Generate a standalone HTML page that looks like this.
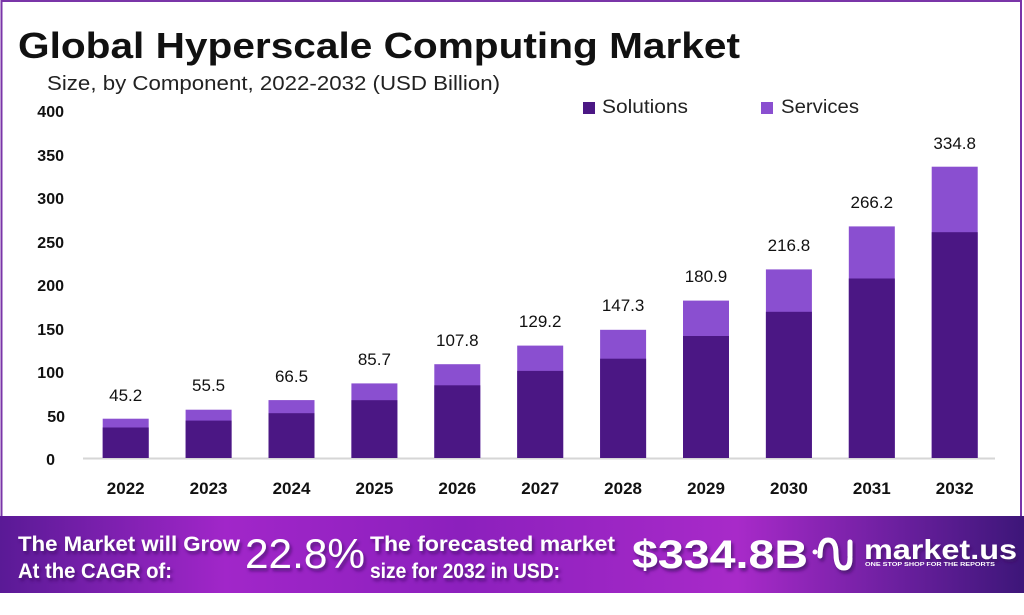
<!DOCTYPE html>
<html>
<head>
<meta charset="utf-8">
<style>
  html,body{margin:0;padding:0;background:#fff;}
  svg{display:block;}
  text{font-family:"Liberation Sans", Arial, sans-serif;}
</style>
</head>
<body>
<svg width="1024" height="615" viewBox="0 0 1024 615" xmlns="http://www.w3.org/2000/svg">
  <defs>
    <linearGradient id="ban" x1="0" y1="0" x2="1" y2="0">
      <stop offset="0" stop-color="#5a1a96"/>
      <stop offset="0.22" stop-color="#a126c9"/>
      <stop offset="0.45" stop-color="#8c20bd"/>
      <stop offset="0.72" stop-color="#a82ac9"/>
      <stop offset="0.88" stop-color="#6a1f9e"/>
      <stop offset="1" stop-color="#3d1679"/>
    </linearGradient>
    <filter id="ts" x="-10%" y="-20%" width="130%" height="150%">
      <feDropShadow dx="2" dy="3" stdDeviation="1.5" flood-color="#3a0a60" flood-opacity="0.7"/>
    </filter>
  </defs>
  <rect x="0" y="0" width="1024" height="615" fill="#fff"/>
  <!-- frame -->
  <rect x="1.5" y="1" width="1019.5" height="520" fill="none" stroke="#7a35a8" stroke-width="2"/>

  <!-- title -->
  <text x="18" y="58" font-size="36" font-weight="bold" fill="#111" textLength="722" lengthAdjust="spacingAndGlyphs">Global Hyperscale Computing Market</text>
  <text x="47" y="90" font-size="20" fill="#222" textLength="453" lengthAdjust="spacingAndGlyphs">Size, by Component, 2022-2032 (USD Billion)</text>

  <!-- legend -->
  <rect x="583" y="102" width="12" height="12" fill="#4b1784"/>
  <text x="602" y="113" font-size="19" fill="#222" textLength="86" lengthAdjust="spacingAndGlyphs">Solutions</text>
  <rect x="761" y="102" width="12" height="12" fill="#8a4fd0"/>
  <text x="781" y="113" font-size="19" fill="#222" textLength="78" lengthAdjust="spacingAndGlyphs">Services</text>

  <!-- y axis labels -->
  <g font-size="16" font-weight="bold" fill="#111" text-anchor="end">
    <text x="64" y="117">400</text>
    <text x="64" y="161">350</text>
    <text x="64" y="204">300</text>
    <text x="64" y="248">250</text>
    <text x="64" y="291">200</text>
    <text x="64" y="335">150</text>
    <text x="64" y="378">100</text>
    <text x="65" y="422">50</text>
    <text x="55" y="465">0</text>
  </g>

  <!-- baseline -->
  <line x1="83" y1="458.5" x2="995" y2="458.5" stroke="#d6d6d6" stroke-width="2"/>

  <!-- bars -->
  <g>
    <rect x="102.7" y="418.7" width="46" height="39.3" fill="#8a4fd0"/><rect x="102.7" y="427.5" width="46" height="30.5" fill="#4b1784"/>
    <rect x="185.6" y="409.7" width="46" height="48.3" fill="#8a4fd0"/><rect x="185.6" y="420.6" width="46" height="37.4" fill="#4b1784"/>
    <rect x="268.5" y="400.1" width="46" height="57.9" fill="#8a4fd0"/><rect x="268.5" y="413.2" width="46" height="44.8" fill="#4b1784"/>
    <rect x="351.4" y="383.4" width="46" height="74.6" fill="#8a4fd0"/><rect x="351.4" y="400.2" width="46" height="57.8" fill="#4b1784"/>
    <rect x="434.3" y="364.2" width="46" height="93.8" fill="#8a4fd0"/><rect x="434.3" y="385.3" width="46" height="72.7" fill="#4b1784"/>
    <rect x="517.2" y="345.6" width="46" height="112.4" fill="#8a4fd0"/><rect x="517.2" y="370.9" width="46" height="87.1" fill="#4b1784"/>
    <rect x="600.1" y="329.8" width="46" height="128.2" fill="#8a4fd0"/><rect x="600.1" y="358.7" width="46" height="99.3" fill="#4b1784"/>
    <rect x="683.0" y="300.6" width="46" height="157.4" fill="#8a4fd0"/><rect x="683.0" y="336.0" width="46" height="122.0" fill="#4b1784"/>
    <rect x="765.9" y="269.4" width="46" height="188.6" fill="#8a4fd0"/><rect x="765.9" y="311.8" width="46" height="146.2" fill="#4b1784"/>
    <rect x="848.8" y="226.4" width="46" height="231.6" fill="#8a4fd0"/><rect x="848.8" y="278.5" width="46" height="179.5" fill="#4b1784"/>
    <rect x="931.7" y="166.7" width="46" height="291.3" fill="#8a4fd0"/><rect x="931.7" y="232.2" width="46" height="225.8" fill="#4b1784"/>
  </g>

  <!-- value labels -->
  <g font-size="17" fill="#111" text-anchor="middle">
    <text x="125.7" y="401">45.2</text>
    <text x="208.6" y="391">55.5</text>
    <text x="291.5" y="382">66.5</text>
    <text x="374.4" y="365">85.7</text>
    <text x="457.3" y="346">107.8</text>
    <text x="540.2" y="327">129.2</text>
    <text x="623.1" y="311">147.3</text>
    <text x="706.0" y="282">180.9</text>
    <text x="788.9" y="251">216.8</text>
    <text x="871.8" y="208">266.2</text>
    <text x="954.7" y="149">334.8</text>
  </g>

  <!-- year labels -->
  <g font-size="17" font-weight="bold" fill="#111" text-anchor="middle">
    <text x="125.7" y="494">2022</text>
    <text x="208.6" y="494">2023</text>
    <text x="291.5" y="494">2024</text>
    <text x="374.4" y="494">2025</text>
    <text x="457.3" y="494">2026</text>
    <text x="540.2" y="494">2027</text>
    <text x="623.1" y="494">2028</text>
    <text x="706.0" y="494">2029</text>
    <text x="788.9" y="494">2030</text>
    <text x="871.8" y="494">2031</text>
    <text x="954.7" y="494">2032</text>
  </g>

  <!-- banner -->
  <rect x="0" y="516" width="1024" height="77" fill="url(#ban)"/>
  <g fill="#fff" font-weight="bold" filter="url(#ts)">
    <text x="18" y="551" font-size="21" textLength="222" lengthAdjust="spacingAndGlyphs">The Market will Grow</text>
    <text x="18" y="578" font-size="21" textLength="154" lengthAdjust="spacingAndGlyphs">At the CAGR of:</text>
    <text x="245" y="568" font-size="42" font-weight="normal" textLength="120" lengthAdjust="spacingAndGlyphs">22.8%</text>
    <text x="370" y="551" font-size="21" textLength="245" lengthAdjust="spacingAndGlyphs">The forecasted market</text>
    <text x="370" y="578" font-size="21" textLength="190" lengthAdjust="spacingAndGlyphs">size for 2032 in USD:</text>
    <text x="632" y="568" font-size="40" textLength="176" lengthAdjust="spacingAndGlyphs">$334.8B</text>
    <text x="864" y="559" font-size="28" textLength="153" lengthAdjust="spacingAndGlyphs">market.us</text>
  </g>
  <text x="865" y="566" font-size="5" font-weight="bold" fill="#fff" textLength="130" lengthAdjust="spacingAndGlyphs">ONE STOP SHOP FOR THE REPORTS</text>
  <!-- logo icon -->
  <g fill="none" stroke="#fff" stroke-width="5" stroke-linecap="round" filter="url(#ts)">
    <path d="M820 556 q0 -16 8 -16 q8 0 8 14 q0 14 8 14 q6 0 6 -10"/>
    <line x1="850" y1="542" x2="850" y2="556"/>
  </g>
  <circle cx="815" cy="552" r="2.5" fill="#fff"/>
</svg>
</body>
</html>
